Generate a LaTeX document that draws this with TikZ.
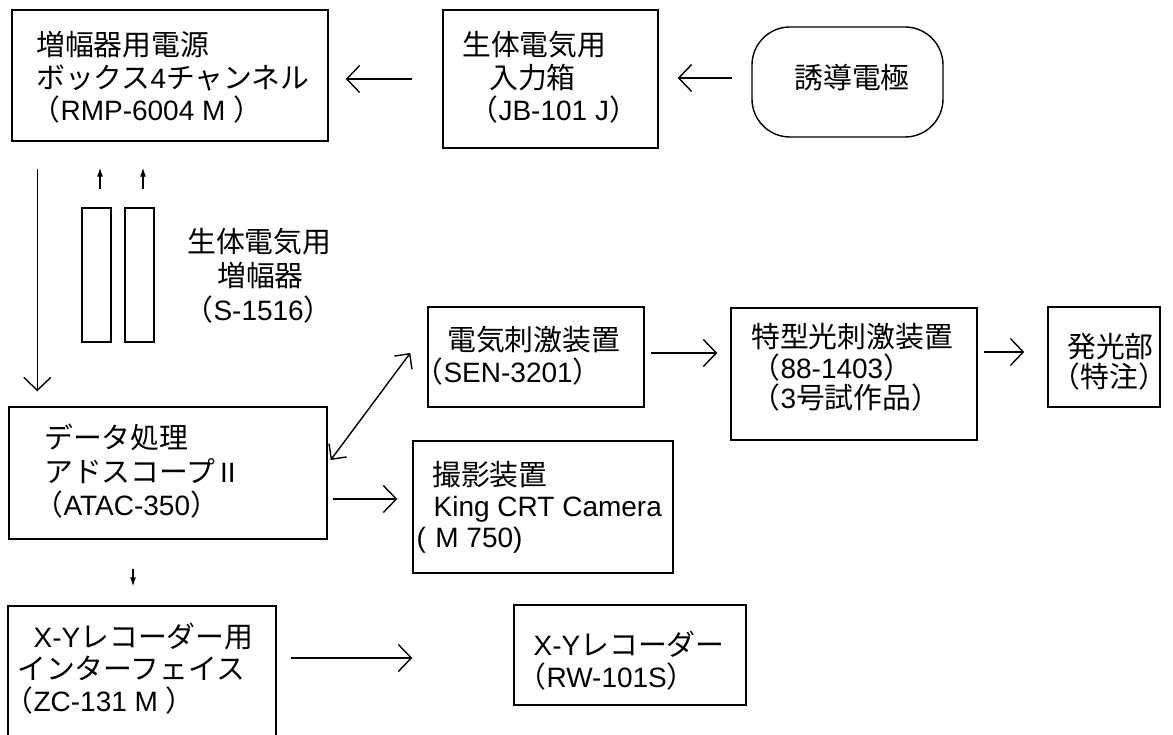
\documentclass[tikz,border=0pt]{standalone}
\usepackage{fontspec}
\setmainfont{Liberation Sans}
\newfontfamily\jpf{Noto Sans CJK JP}[Scale=1.03]
\usetikzlibrary{arrows.meta}
\begin{document}
\begin{tikzpicture}[x=1pt,y=-1pt,line width=1.4pt,
  box/.style={draw,inner sep=0pt},
  txt/.style={anchor=west,inner sep=0pt,text height=24.6pt,text depth=3.4pt,font=\fontsize{28pt}{32pt}\selectfont},
  big/.style={-{Straight Barb[length=13pt,width=27pt]}},
  bigboth/.style={{Straight Barb[length=11pt,width=22pt]}-{Straight Barb[length=11pt,width=22pt]}},
  small/.style={-{Latex[length=9pt,width=6pt]},line width=1.2pt}]
\useasboundingbox (0,0) rectangle (1173,735);
% boxes
\node[box,minimum width=316pt,minimum height=131pt] (pwr) at (170,75.5) {};
\node[box,minimum width=215pt,minimum height=138pt] (inbox) at (550.5,79) {};
\node[box,rounded corners=38pt,minimum width=191pt,minimum height=110pt] (elec) at (847.5,82) {};
\node[box,minimum width=29pt,minimum height=134pt] (amp1) at (96.5,275) {};
\node[box,minimum width=29pt,minimum height=134pt] (amp2) at (139.5,275) {};
\node[box,minimum width=318pt,minimum height=132pt] (data) at (168,473) {};
\node[box,minimum width=216pt,minimum height=100pt] (stim) at (536,357) {};
\node[box,minimum width=246pt,minimum height=132pt] (spec) at (854,374) {};
\node[box,minimum width=112pt,minimum height=100pt] (led) at (1104,357) {};
\node[box,minimum width=260pt,minimum height=132pt] (cam) at (543,507) {};
\begin{scope}
\clip (0,0) rectangle (1173,735);
\node[box,minimum width=268pt,minimum height=154pt] (xyif) at (142,683) {};
\end{scope}
\node[box,minimum width=232pt,minimum height=100pt] (xyrec) at (630,655) {};
% texts
\node[txt] (p1) at (35.5,45) {\jpf 増幅器用電源};
\node[txt] (p2) at (35.5,78) {{\jpf ボックス}4{\jpf チャンネル}};
\node[txt] (p3) at (31,110) {{\jpf （}RMP-6004 M {\jpf ）}};
\node[txt] (i1) at (461.5,45) {\jpf 生体電気用};
\node[txt] (i2) at (488.5,78) {\jpf 入力箱};
\node[txt] (i3) at (469,110) {{\jpf （}JB-101 J{\jpf ）}};
\node[txt,anchor=center] (e1) at (852,78) {\jpf 誘導電極};
\node[txt] (a1) at (186.5,242) {\jpf 生体電気用};
\node[txt] (a2) at (216.5,276) {\jpf 増幅器};
\node[txt] (a3) at (184,310) {{\jpf （}S-1516{\jpf ）}};
\node[txt] (d1) at (43.5,438) {\jpf データ処理};
\node[txt] (d2) at (43.5,472) {{\jpf アドスコープ}\,II};
\node[txt] (d3) at (34,505) {{\jpf （}ATAC-350{\jpf ）}};
\node[txt] (s1) at (446.5,340) {\jpf 電気刺激装置};
\node[txt] (s2) at (414,372) {{\jpf （}SEN-3201{\jpf ）}};
\node[txt] (q1) at (750.5,337) {\jpf 特型光刺激装置};
\node[txt] (q2) at (751,368) {{\jpf （}88-1403{\jpf ）}};
\node[txt] (q3) at (751,398) {{\jpf （}3{\jpf 号試作品）}};
\node[txt] (l1) at (1066.5,347) {\jpf 発光部};
\node[txt] (l2) at (1051,377) {\jpf （特注）};
\node[txt] (c1) at (431.5,475) {\jpf 撮影装置};
\node[txt] (c2) at (433,506) {King CRT Camera};
\node[txt] (c3) at (416,537) {(\,\,M 750)};
\node[txt] (x1) at (33,637) {X-Y{\jpf レコーダー用}};
\node[txt] (x2) at (16.5,669) {\jpf インターフェイス};
\node[txt] (x3) at (4,701) {{\jpf （}ZC-131 M {\jpf ）}};
\node[txt] (r1) at (533,645) {X-Y{\jpf レコーダー}};
\node[txt] (r2) at (517,677) {{\jpf （}RW-101S{\jpf ）}};
% connectors
\draw[big,shorten <=30pt,shorten >=17pt] (inbox.west) -- (inbox.west -| pwr.east);
\draw[big,shorten <=19pt,shorten >=19pt] ([yshift=4pt]elec.west) -- ([yshift=4pt]elec.west -| inbox.east);
\draw[big,shorten <=27pt,shorten >=15pt] ([xshift=26pt]pwr.south west) -- ([xshift=26pt]pwr.south west |- data.north);
\draw[small,shorten <=18pt,shorten >=26pt] ([xshift=3.5pt]amp1.north) -- ([xshift=3.5pt]amp1.north |- pwr.south);
\draw[small,shorten <=18pt,shorten >=26pt] ([xshift=3.5pt]amp2.north) -- ([xshift=3.5pt]amp2.north |- pwr.south);
\draw[bigboth] ([shift={(3pt,13pt)}]data.east) -- ([shift={(-17pt,4pt)}]stim.west);
\draw[big,shorten <=5pt,shorten >=15pt] ([yshift=-26pt]data.east) -- ([yshift=-26pt]data.east -| cam.west);
\draw[big,shorten <=6pt,shorten >=13pt] ([yshift=4pt]stim.east) -- ([yshift=4pt]stim.east -| spec.west);
\draw[big,shorten <=6pt,shorten >=23pt] ([yshift=5pt]led.west -| spec.east) -- ([yshift=5pt]led.west);
\draw[small,shorten <=29pt,shorten >=19pt] ([xshift=-35pt]data.south) -- ([xshift=-35pt]data.south |- xyif.north);
\draw[big,shorten <=14pt,shorten >=101pt] ([yshift=-3pt]xyrec.west -| xyif.east) -- ([yshift=-3pt]xyrec.west);
\end{tikzpicture}
\end{document}
